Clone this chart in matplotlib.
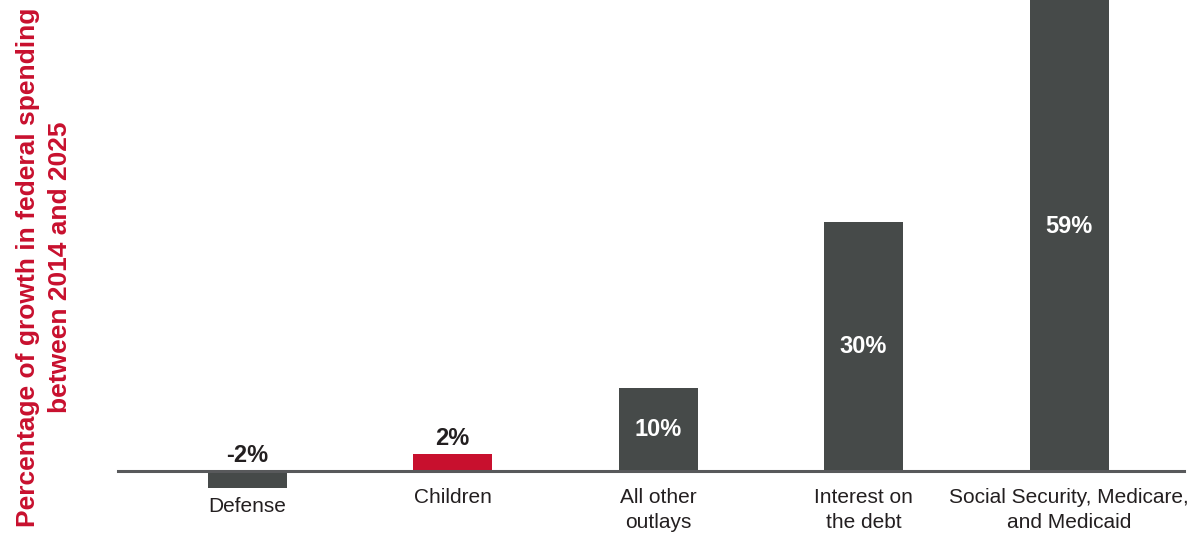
import matplotlib
matplotlib.use('Agg')
import matplotlib.pyplot as plt

# data
categories = ['Defense', 'Children', 'All other\noutlays', 'Interest on\nthe debt',
              'Social Security, Medicare,\nand Medicaid']
growth = [-2, 2, 10, 30, 59]
bar_colors = ['#464a49', '#c8102e', '#464a49', '#464a49', '#464a49']

plt.rcParams['font.family'] = ['Liberation Sans', 'DejaVu Sans']

fig = plt.figure(figsize=(11.97, 5.34), dpi=100)
ax = fig.add_axes([0, 0, 1, 1])

# pixel layout: bar centers ~247 + 205.5*i, baseline at y=471, ~8.3 px per point
px_per_unit_x = 205.5
px_per_pct = 8.3
ax.set_xlim(-247 / px_per_unit_x, (1197 - 247) / px_per_unit_x)
ax.set_ylim(-(534 - 471) / px_per_pct, 471 / px_per_pct)

x = list(range(len(categories)))
ax.bar(x, growth, width=79 / px_per_unit_x, color=bar_colors)

# zero line
ax.axhline(0, xmin=118 / 1197, xmax=1184 / 1197, color='#58595b', lw=2.2)

for i, v in enumerate(growth):
    if v >= 10:
        ax.text(i, v / 2, f'{v}%', ha='center', va='center', color='white',
                fontsize=17, fontweight='bold')
    else:
        ax.annotate(f'{v}%', (i, max(v, 0)), xytext=(0, 3), textcoords='offset points',
                    ha='center', va='bottom', color='#231f20', fontsize=17, fontweight='bold')
    off = -12.5 if v >= 0 else -6.5
    ax.annotate(categories[i], (i, min(v, 0)), xytext=(0, off), textcoords='offset points',
                ha='center', va='top', color='#231f20', fontsize=15, linespacing=1.4)

ax.axis('off')

fig.text(44 / 1197, 0.5, 'Percentage of growth in federal spending\nbetween 2014 and 2025',
         rotation=90, ha='center', va='center', multialignment='center',
         color='#c8102e', fontsize=19, fontweight='bold', linespacing=1.45)

fig.savefig('out.png', dpi=100)
